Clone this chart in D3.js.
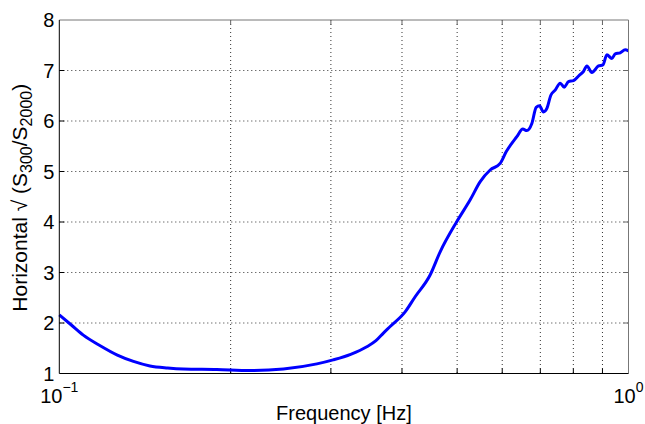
<!DOCTYPE html>
<html>
<head>
<meta charset="utf-8">
<script src="https://cdn.jsdelivr.net/npm/d3@7"></script>
<style>
  body { margin: 0; background: #fff; }
  text { font-family: "Liberation Sans", Arial, sans-serif; fill: #000; }
</style>
</head>
<body>
<svg id="chart" width="645" height="424"></svg>
<script>
// frequency [Hz] and sqrt spectral ratio
const freq = [0.1, 0.1050, 0.1102, 0.1180, 0.1262, 0.1350, 0.1443, 0.1550, 0.1652, 0.1891,
  0.2163, 0.2476, 0.2835, 0.3027, 0.3250, 0.3469, 0.3600, 0.3710, 0.3813, 0.4051,
  0.4219, 0.4482, 0.4668, 0.4994, 0.5271, 0.5489, 0.5714, 0.5950, 0.6096, 0.6365,
  0.6521, 0.6628, 0.6764, 0.6883, 0.6976, 0.7089, 0.7188, 0.7304, 0.7433, 0.7586,
  0.7709, 0.7845, 0.8004, 0.8201, 0.8334, 0.8450, 0.8622, 0.8857, 0.9016, 0.9163,
  0.9350, 0.9476, 0.9670, 0.9867, 1.0];
const ratio = [2.16, 1.96, 1.76, 1.55, 1.37, 1.24, 1.15, 1.11, 1.09, 1.08,
  1.06, 1.09, 1.19, 1.27, 1.38, 1.53, 1.65, 1.80, 1.93, 2.22,
  2.52, 2.95, 3.41, 4.01, 4.44, 4.80, 5.03, 5.16, 5.39, 5.69,
  5.84, 5.81, 5.95, 6.27, 6.30, 6.18, 6.25, 6.51, 6.61, 6.75,
  6.67, 6.78, 6.80, 6.91, 6.98, 7.09, 6.96, 7.09, 7.11, 7.31,
  7.24, 7.33, 7.35, 7.41, 7.39];

const xGrid  = [0.2, 0.3, 0.4, 0.5, 0.6, 0.7, 0.8, 0.9];
const yTicks = [1, 2, 3, 4, 5, 6, 7, 8];
const xTickLabels = [{v: 0.1, exp: "\u22121"}, {v: 1, exp: "0"}];

let svg     = d3.select("#chart"),
    pLeft   = 59.3,
    pRight  = 628.5,
    pTop    = 20,
    pBottom = 373.5,
    tickLen = 5,
    x = d3.scaleLog().domain([0.1, 1]).range([pLeft, pRight]),
    y = d3.scaleLinear().domain([1, 8]).range([pBottom, pTop]);

// dotted grid
svg.append("g").selectAll("line").data(xGrid).join("line")
  .attr("x1", d => x(d)).attr("x2", d => x(d))
  .attr("y1", pTop).attr("y2", pBottom)
  .attr("stroke", "#333").attr("stroke-dasharray", "1,3");

svg.append("g").selectAll("line").data(yTicks.slice(1, -1)).join("line")
  .attr("x1", pLeft).attr("x2", pRight)
  .attr("y1", d => y(d)).attr("y2", d => y(d))
  .attr("stroke", "#333").attr("stroke-dasharray", "1,3");

// inward ticks
let ticks = svg.append("g").attr("stroke", "#000");
xGrid.forEach(d => {
  ticks.append("line").attr("x1", x(d)).attr("x2", x(d)).attr("y1", pBottom).attr("y2", pBottom - tickLen);
  ticks.append("line").attr("x1", x(d)).attr("x2", x(d)).attr("y1", pTop).attr("y2", pTop + tickLen).attr("stroke", "#666");
});
yTicks.slice(1, -1).forEach(d => {
  ticks.append("line").attr("x1", pLeft).attr("x2", pLeft + tickLen).attr("y1", y(d)).attr("y2", y(d));
  ticks.append("line").attr("x1", pRight).attr("x2", pRight - tickLen).attr("y1", y(d)).attr("y2", y(d)).attr("stroke", "#666");
});

// curve
svg.append("path")
  .datum(freq.map((f, i) => [f, ratio[i]]))
  .attr("fill", "none")
  .attr("stroke", "#0000ff")
  .attr("stroke-width", 3)
  .attr("stroke-linejoin", "round")
  .attr("d", d3.line().x(d => x(d[0])).y(d => y(d[1])).curve(d3.curveMonotoneX));

// frame
svg.append("path")
  .attr("d", `M${pLeft},${pTop}H${pRight}V${pBottom}`)
  .attr("fill", "none").attr("stroke", "#777");
svg.append("path")
  .attr("d", `M${pLeft},${pTop}V${pBottom}H${pRight}`)
  .attr("fill", "none").attr("stroke", "#000");

// y tick labels
svg.append("g").selectAll("text").data(yTicks).join("text")
  .attr("x", pLeft - 5).attr("y", d => y(d)).attr("dy", "0.36em")
  .attr("text-anchor", "end").attr("font-size", 20)
  .text(d => d);

// x tick labels (powers of ten)
let xl = svg.append("g").selectAll("text").data(xTickLabels).join("text")
  .attr("x", d => x(d.v)).attr("y", 403)
  .attr("text-anchor", "middle").attr("font-size", 20);
xl.append("tspan").text("10");
xl.append("tspan").attr("font-size", 14).attr("dy", -11).text(d => d.exp);

// axis labels
svg.append("text")
  .attr("x", (pLeft + pRight) / 2).attr("y", 420)
  .attr("text-anchor", "middle").attr("font-size", 20)
  .text("Frequency [Hz]");

let yl = svg.append("text")
  .attr("transform", `translate(27,${(pTop + pBottom) / 2 + 1}) rotate(-90)`)
  .attr("text-anchor", "middle").attr("font-size", 21);
yl.append("tspan").text("Horizontal \u221A (S");
yl.append("tspan").attr("font-size", 16).attr("dy", 5).text("300");
yl.append("tspan").attr("dy", -5).text("/S");
yl.append("tspan").attr("font-size", 16).attr("dy", 5).text("2000");
yl.append("tspan").attr("dy", -5).text(")");
</script>
</body>
</html>
